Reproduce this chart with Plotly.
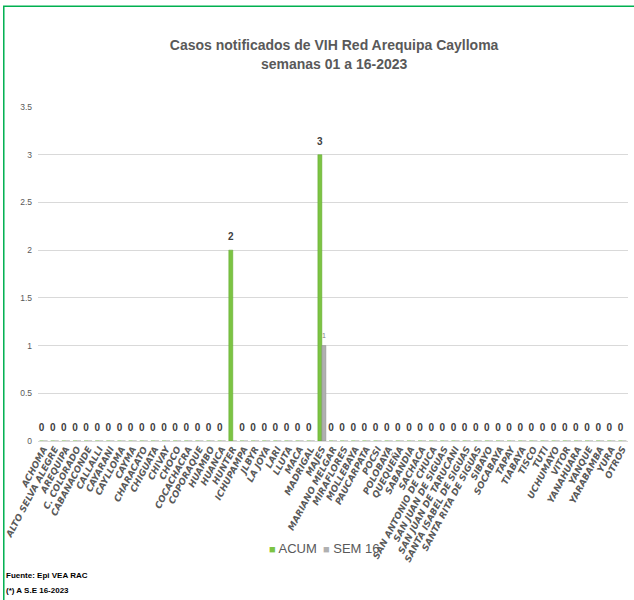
import plotly.graph_objects as go

# distritos / categorias del eje x
distritos = [
    "ACHOMA", "ALTO SELVA ALEGRE", "AREQUIPA", "C. COLORADO", "CABANACONDE",
    "CALLALLI", "CAYARANI", "CAYLLOMA", "CAYMA", "CHARACATO", "CHIGUATA",
    "CHIVAY", "CHOCO", "COCACHACRA", "COPORAQUE", "HUAMBO", "HUANCA",
    "HUNTER", "ICHUPAMPA", "JLBYR", "LA JOYA", "LARI", "LLUTA", "MACA",
    "MADRIGAL", "MAJES", "MARIANO MELGAR", "MIRAFLORES", "MOLLEBAYA",
    "PAUCARPATA", "POCSI", "POLOBAYA", "QUEQUEÑA", "SABANDIA", "SACHACA",
    "SAN ANTONIO DE CHUCA", "SAN JUAN DE SIGUAS", "SAN JUAN DE TARUCANI",
    "SANTA ISABEL DE SIGUAS", "SANTA RITA DE SIGUAS", "SIBAYO", "SOCABAYA",
    "TAPAY", "TIABAYA", "TISCO", "TUTI", "UCHUMAYO", "VITOR", "YANAHUARA",
    "YANQUE", "YARABAMBA", "YURA", "OTROS",
]

acum = [0] * len(distritos)
acum[distritos.index("HUNTER")] = 2
acum[distritos.index("MAJES")] = 3

sem16 = [0] * len(distritos)
sem16[distritos.index("MAJES")] = 1

y_ticks = [0, 0.5, 1, 1.5, 2, 2.5, 3, 3.5]

verde = "#7cc443"
gris = "#b0b0b0"
sans = "Liberation Sans, Arial, sans-serif"

fig = go.Figure()

fig.add_trace(go.Bar(
    x=distritos, y=acum, name="ACUM", showlegend=False, offsetgroup="acum",
    marker=dict(color=verde, line=dict(color="#5fa82e", width=0.5)),
))
fig.add_trace(go.Bar(
    x=distritos, y=sem16, name="SEM 16", showlegend=False, offsetgroup="sem",
    marker=dict(color=gris, line=dict(color="#8c8c8c", width=0.5)),
))

# etiquetas de datos (marcador invisible para separar el texto de la barra)
fig.add_trace(go.Scatter(
    x=distritos, y=acum, mode="markers+text", offsetgroup="acum",
    text=[str(v) for v in acum], textposition="top center",
    marker=dict(size=10, opacity=0), showlegend=False, hoverinfo="skip",
    cliponaxis=False,
    textfont=dict(family=sans, size=10, color="#404040", weight="bold"),
))
fig.add_trace(go.Scatter(
    x=distritos, y=sem16, mode="markers+text", offsetgroup="sem",
    text=[str(v) if v else "" for v in sem16], textposition="top center",
    marker=dict(size=8, opacity=0), showlegend=False, hoverinfo="skip",
    cliponaxis=False,
    textfont=dict(family=sans, size=7, color="#7f7f7f"),
))

# leyenda: cuadrito como texto para dejarlo pegado al nombre
fig.add_trace(go.Scatter(
    x=[None], y=[None], mode="markers", legend="legend",
    name=f"<span style='color:{verde};font-size:11px'>■</span> ACUM",
    marker=dict(color="rgba(0,0,0,0)"),
))
fig.add_trace(go.Scatter(
    x=[None], y=[None], mode="markers", legend="legend2",
    name=f"<span style='color:{gris};font-size:11px'>■</span> SEM 16",
    marker=dict(color="rgba(0,0,0,0)"),
))

leg = dict(orientation="h", xanchor="left", yanchor="middle", y=-0.32,
           bgcolor="rgba(0,0,0,0)", itemwidth=30,
           font=dict(family=sans, size=13, color="#595959"))

fig.update_layout(
    width=634, height=600,
    paper_bgcolor="white", plot_bgcolor="white",
    barmode="group", bargap=0.28, bargroupgap=0,
    scattermode="group", scattergap=0.28,
    margin=dict(l=38, r=6, t=107, b=159, autoexpand=False),
    title=dict(
        text="Casos notificados de VIH Red Arequipa Caylloma<br>semanas 01 a 16-2023",
        x=0.527, xanchor="center", y=0.916, yanchor="middle",
        font=dict(family=sans, size=14, color="#595959", weight="bold"),
    ),
    legend=dict(leg, x=(229 - 38) / 590),
    legend2=dict(leg, x=(283 - 38) / 590),
    showlegend=True,
)

fig.update_yaxes(
    range=[0, 3.5], tickvals=y_ticks, ticktext=[f"{v:g}" for v in y_ticks],
    showgrid=True, gridcolor="#d9d9d9", gridwidth=1,
    zeroline=True, zerolinecolor="#d9d9d9", zerolinewidth=1,
    showline=False, ticks="", ticklen=0, automargin=False,
    ticklabelstandoff=5,
    tickfont=dict(family=sans, size=8.5, color="#595959"),
)

fig.update_xaxes(
    tickmode="linear", tick0=0, dtick=1,
    tickangle=-62, showgrid=False, showline=False, ticks="", automargin=False,
    tickfont=dict(family="DejaVu Sans", size=9, color="#595959",
                  weight="bold", style="italic"),
)

# marco verde del grafico
fig.add_shape(type="rect", xref="paper", yref="paper",
              x0=-0.058, x1=1.05, y0=-0.6, y1=1.302,
              line=dict(color="#00b050", width=1.5), fillcolor="rgba(0,0,0,0)")

fig.add_annotation(text="Fuente: Epi VEA RAC",
                   xref="paper", yref="paper", x=-0.057, y=-0.404,
                   xanchor="left", yanchor="middle", showarrow=False,
                   font=dict(family=sans, size=8, color="#000000", weight="bold"))
fig.add_annotation(text="(*) A S.E 16-2023",
                   xref="paper", yref="paper", x=-0.057, y=-0.449,
                   xanchor="left", yanchor="middle", showarrow=False,
                   font=dict(family=sans, size=8, color="#000000", weight="bold"))

fig.write_html("out.html", config={"displayModeBar": False},
               post_script="document.body.style.margin='0px';")
